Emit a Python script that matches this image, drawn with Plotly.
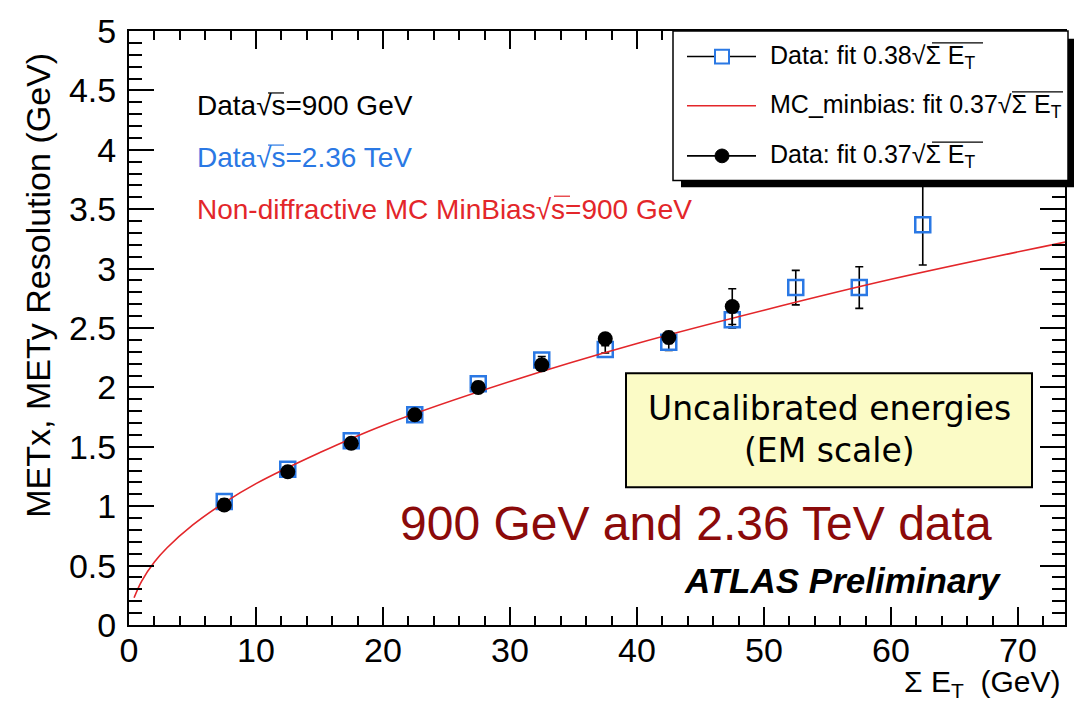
import plotly.graph_objects as go

# ---------------- data ----------------
sum_et_bins = [7.5, 12.5, 17.5, 22.5, 27.5, 32.5, 37.5, 42.5, 47.5, 52.5, 57.5, 62.5]
res_236 = [1.04, 1.31, 1.55, 1.77, 2.03, 2.23, 2.32, 2.38, 2.57, 2.84, 2.84, 3.37]
err_236 = [0.02, 0.02, 0.02, 0.02, 0.02, 0.03, 0.03, 0.07, 0.07, 0.145, 0.175, 0.34]

sum_et_900 = [7.5, 12.5, 17.5, 22.5, 27.5, 32.5, 37.5, 42.5, 47.5]
res_900 = [1.01, 1.29, 1.53, 1.77, 2.00, 2.19, 2.41, 2.42, 2.68]
err_900 = [0.01, 0.01, 0.01, 0.02, 0.02, 0.03, 0.04, 0.05, 0.15]

# MC fit curve
mc_x = [0.4, 1, 2, 3, 5, 7.5, 10, 15, 20, 30, 40, 50, 60, 74]
mc_y = [0.23, 0.37, 0.53, 0.65, 0.84, 1.03, 1.19, 1.45, 1.68, 2.05, 2.37, 2.65, 2.91, 3.23]

x_range = [0, 73.7]
y_range = [0, 5]

# ---------------- layout geometry ----------------
W, H = 1079, 707
L, R, T, B = 129, 14, 21, 82
PW, PH = W - L - R, H - T - B

def px(X):
    return (X - L) / PW

def py(Y):
    return (H - B - Y) / PH

FONT = "Liberation Sans, Arial, Helvetica, sans-serif"
BLUE = "#2a78e4"
RED = "#e3262a"

fig = go.Figure()

fig.add_trace(go.Scatter(
    x=sum_et_bins, y=res_236, mode="markers",
    marker=dict(symbol="square-open", size=15, color=BLUE, line=dict(width=2.5, color=BLUE)),
    error_y=dict(type="data", array=err_236, color="black", thickness=1.6, width=4),
    showlegend=False))

fig.add_trace(go.Scatter(
    x=mc_x, y=mc_y, mode="lines", line=dict(color=RED, width=1.6, shape="spline"),
    showlegend=False))

fig.add_trace(go.Scatter(
    x=sum_et_900, y=res_900, mode="markers",
    marker=dict(symbol="circle", size=15, color="black"),
    error_y=dict(type="data", array=err_900, color="black", thickness=1.6, width=4),
    showlegend=False))

shapes = []
# legend shadow and box
shapes.append(dict(type="rect", xref="paper", yref="paper", x0=px(681), x1=px(1074), y0=py(180), y1=py(29),
                   fillcolor="black", line=dict(width=0), layer="above"))
shapes.append(dict(type="rect", xref="paper", yref="paper", x0=px(673), x1=px(1068), y0=py(173), y1=py(21),
                   fillcolor="white", line=dict(color="black", width=1.5), layer="above"))
# legend samples
for yy, col in [(47, "black"), (97, RED), (148, "black")]:
    shapes.append(dict(type="line", xref="paper", yref="paper", x0=px(687), x1=px(756), y0=py(yy), y1=py(yy),
                       line=dict(color=col, width=1.6), layer="above"))
shapes.append(dict(type="rect", xref="paper", yref="paper", x0=px(715), x1=px(729), y0=py(54), y1=py(40),
                   fillcolor="white", line=dict(color=BLUE, width=2), layer="above"))
shapes.append(dict(type="circle", xref="paper", yref="paper", x0=px(715), x1=px(729), y0=py(155), y1=py(141),
                   fillcolor="black", line=dict(color="black", width=1), layer="above"))
# uncalibrated box
shapes.append(dict(type="rect", xref="paper", yref="paper", x0=px(626), x1=px(1032), y0=py(485), y1=py(369),
                   fillcolor="#fbfbc6", line=dict(color="black", width=2), layer="above"))

# overlines for the square-root signs
def overline(x0, x1, y, color="black"):
    shapes.append(dict(type="line", xref="paper", yref="paper", x0=px(x0), x1=px(x1), y0=py(y), y1=py(y),
                       line=dict(color=color, width=1.2), layer="above"))

overline(932, 983, 33)
overline(1012, 1063, 83)
overline(932, 983, 134)
overline(268, 284, 84)
overline(268, 284, 137, BLUE)
overline(554, 570, 189, RED)

annotations = []

def ann(text, X, Y, size, color="black", xanchor="left", family=FONT, angle=0):
    annotations.append(dict(text=text, x=px(X), y=py(Y), xref="paper", yref="paper", showarrow=False,
                            xanchor=xanchor, yanchor="middle", textangle=angle,
                            font=dict(family=family, size=size, color=color)))

# legend texts
ann("Data: fit 0.38√Σ E<sub>T</sub>", 768, 47, 25)
ann("MC_minbias: fit 0.37√Σ E<sub>T</sub>", 768, 97, 25)
ann("Data: fit 0.37√Σ E<sub>T</sub>", 768, 148, 25)

# energy labels
ann("Data√s=900 GeV", 195, 97, 28, "black")
ann("Data√s=2.36 TeV", 195, 150, 28, BLUE)
ann("Non-diffractive MC MinBias√s=900 GeV", 195, 202, 28, RED)

# box text
ann("Uncalibrated energies", 829, 405, 33, xanchor="center", family="DejaVu Sans, Verdana, sans-serif")
ann("(EM scale)", 829, 448, 33, xanchor="center", family="DejaVu Sans, Verdana, sans-serif")

ann("900 GeV and 2.36 TeV data", 398, 522, 48, "#8b0a0a")
ann("<b><i>ATLAS Preliminary</i></b>", 1003, 580, 35, xanchor="right")

# axis titles
ann("Σ E<sub>T</sub>  (GeV)", 1062, 684, 30, xanchor="right")
annotations.append(dict(text="METx, METy Resolution (GeV)", x=px(38), y=py(280), xref="paper", yref="paper",
                        showarrow=False, xanchor="center", yanchor="middle", textangle=-90,
                        font=dict(family=FONT, size=34, color="black")))

axis_common = dict(showline=True, linecolor="black", linewidth=2, mirror="allticks",
                   ticks="inside", tickcolor="black", tickwidth=1.5, showgrid=False, zeroline=False,
                   tickfont=dict(family=FONT, size=34, color="black"))

fig.update_layout(
    width=W, height=H,
    margin=dict(l=L, r=R, t=T, b=B),
    paper_bgcolor="white", plot_bgcolor="white",
    showlegend=False,
    shapes=shapes, annotations=annotations,
    xaxis=dict(range=x_range, dtick=10, ticklen=18, ticklabelstandoff=-6,
               minor=dict(ticks="inside", dtick=2, ticklen=9, tickcolor="black", tickwidth=1.5),
               **axis_common),
    yaxis=dict(range=y_range, dtick=0.5, ticklen=25, ticklabelstandoff=4,
               minor=dict(ticks="inside", dtick=0.1, ticklen=13, tickcolor="black", tickwidth=1.5),
               **axis_common),
)

fig.write_html("out.html")
